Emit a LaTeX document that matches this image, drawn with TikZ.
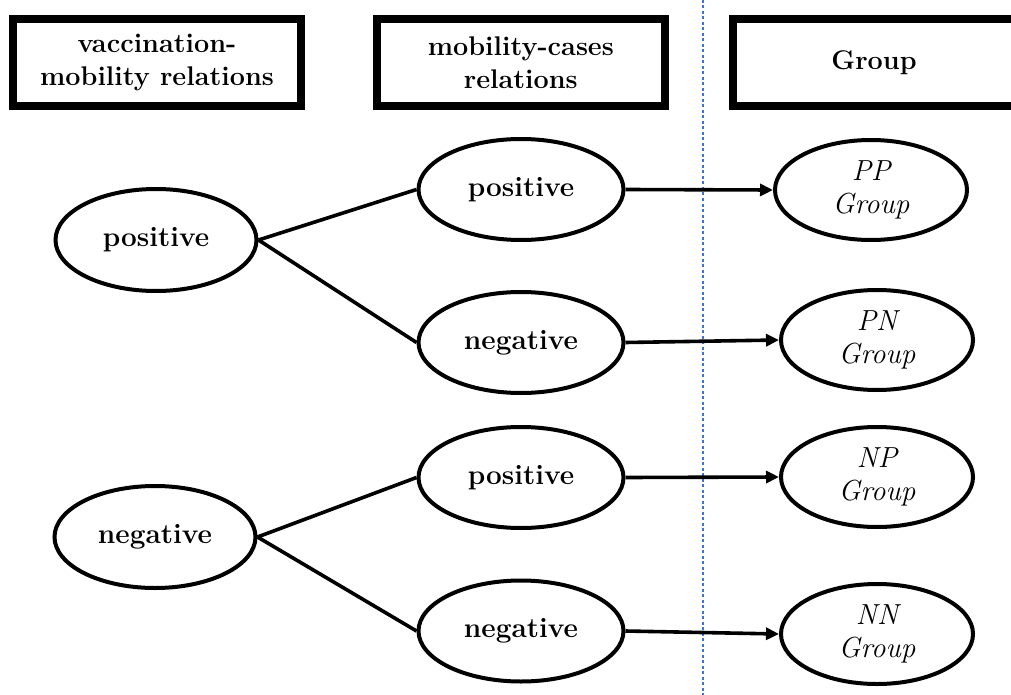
\documentclass[tikz,border=0pt]{standalone}
\usepackage{fontspec}
\usetikzlibrary{shapes.geometric,arrows.meta}
\definecolor{guide}{RGB}{68,114,210}
\begin{document}
\begin{tikzpicture}[x=1pt,y=-1pt,
  hdr/.style={draw, line width=8pt, rectangle, minimum height=87pt, inner sep=0pt, align=center, font=\fontsize{27}{33}\selectfont\bfseries},
  ell/.style={draw, line width=4pt, ellipse, inner sep=0pt, align=center, font=\fontsize{28}{32}\selectfont\bfseries},
  lell/.style={ell, minimum width=201pt, minimum height=102pt},
  mell/.style={ell, minimum width=205pt, minimum height=101pt},
  rell/.style={ell, minimum width=192pt, minimum height=100pt, font=\fontsize{29}{33}\selectfont\itshape},
  conn/.style={line width=3.6pt},
  arr/.style={line width=3.6pt, -{Triangle[length=13pt,width=12pt]}},
  guideline/.style={guide, line width=1.1pt, dash pattern=on 3pt off 2.5pt}]
\useasboundingbox (0,0) rectangle (1011,695);
\coordinate (gtop) at (703,0);
\coordinate (gbot) at (703,695);
\draw[guideline] (gtop) -- (gbot);

\node[hdr, minimum width=288pt] (h1) at (157,62.5) {vaccination-\\mobility relations};
\node[hdr, minimum width=287.6pt] (h2) at (520.8,62.5) {mobility-cases\\relations};
\node[hdr, minimum width=282pt] (h3) at (874,62.5) {Group};

\node[lell] (lp) at (156,240) {positive};
\node[lell] (ln) at (155,537) {negative};

\node[mell] (m1) at (521,189.5) {positive};
\node[mell] (m2) at (521,342.5) {negative};
\node[mell] (m3) at (521,477.5) {positive};
\node[mell] (m4) at (521,631) {negative};

\node[rell] (pp) at (871,190) {PP\\Group};
\node[rell] (pn) at (877,340) {PN\\Group};
\node[rell] (np) at (877,477) {NP\\Group};
\node[rell] (nn) at (877,634) {NN\\Group};

\draw[conn] (lp.east) -- (m1.west);
\draw[conn] (lp.east) -- (m2.west);
\draw[conn] (ln.east) -- (m3.west);
\draw[conn] (ln.east) -- (m4.west);

\draw[arr] (m1.east) -- (pp.west);
\draw[arr] (m2.east) -- (pn.west);
\draw[arr] (m3.east) -- (np.west);
\draw[arr] (m4.east) -- (nn.west);
\end{tikzpicture}
\end{document}
